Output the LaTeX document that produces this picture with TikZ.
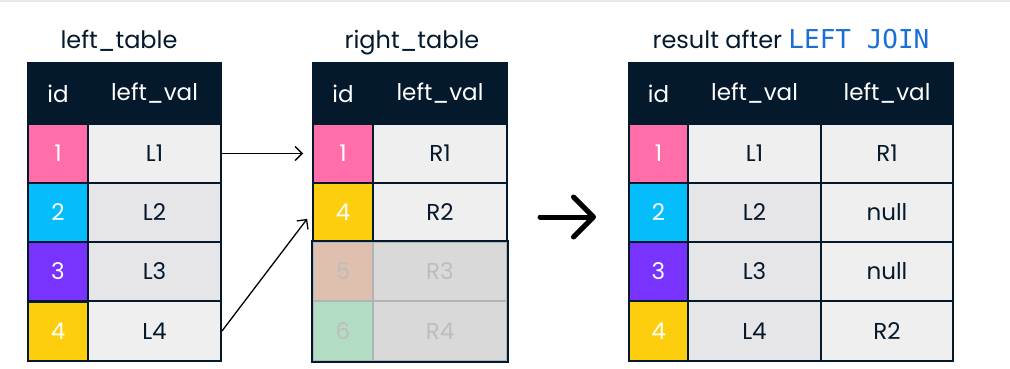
\documentclass[tikz,border=0pt]{standalone}
\usepackage{fontspec}
\setmainfont{Poppins}
\newfontfamily\codefont{DejaVu Sans Mono}
\usetikzlibrary{arrows.meta}
\definecolor{navy}{HTML}{05192D}
\definecolor{pinkc}{HTML}{FF6EA9}
\definecolor{cyanc}{HTML}{06BDFC}
\definecolor{purplec}{HTML}{7933FF}
\definecolor{yellowc}{HTML}{FCCE0D}
\definecolor{cellA}{HTML}{EFEFEF}
\definecolor{cellB}{HTML}{E6E6E9}
\definecolor{fadeA}{HTML}{DFC0AF}
\definecolor{fadeB}{HTML}{B3DDC3}
\definecolor{fadeV}{HTML}{D9D9D9}
\definecolor{fadeT}{HTML}{BDBDBD}
\definecolor{fadeL}{HTML}{B0B3B8}
\definecolor{joinblue}{HTML}{1A6FD6}
\definecolor{topline}{HTML}{E8E8E8}
\begin{document}
\begin{tikzpicture}[x=1pt,y=-1pt,
  cell/.style={draw=navy,line width=2pt,minimum height=59pt,inner sep=0pt,font=\fontsize{23}{23}\selectfont},
  idc/.style={cell,minimum width=60pt,text=white},
  lv/.style={cell,minimum width=133pt,text=navy},
  rs/.style={cell,minimum width=132pt,text=navy},
  hd/.style={cell,fill=navy,text=white,minimum height=61pt},
  faded/.style={draw=fadeL,text=fadeT},
  title/.style={text=navy,font=\fontsize{24}{24}\selectfont,anchor=base},
  link/.style={line width=1.3pt,-{Straight Barb[length=7pt,width=14pt]}},
]
\useasboundingbox (0,0) rectangle (1010,369);
\draw[topline,line width=2pt] (0,1) coordinate (tl) -- (1010,1) coordinate (tr);
% titles
\node[title] (t1) at (119,49) {left\_table};
\node[title] (t2) at (412,49) {right\_table};
\node[title] (t3) at (791,49) {result after {\codefont\fontsize{26}{26}\selectfont\color{joinblue}LEFT JOIN}};
% left table
\node[hd,minimum width=60pt] (lh1) at (58,93.5) {id};
\node[hd,minimum width=133pt] (lh2) at (154.5,93.5) {left\_val};
\node[idc,fill=pinkc] (l1i) at (58,153.5) {1};
\node[lv,fill=cellA] (l1v) at (154.5,153.5) {L1};
\node[idc,fill=cyanc] (l2i) at (58,212.5) {2};
\node[lv,fill=cellB] (l2v) at (154.5,212.5) {L2};
\node[idc,fill=purplec] (l3i) at (58,271.5) {3};
\node[lv,fill=cellB] (l3v) at (154.5,271.5) {L3};
\node[idc,fill=yellowc] (l4i) at (58,331) {4};
\node[lv,fill=cellA,minimum height=60pt] (l4v) at (154.5,331) {L4};
% right table
\node[hd,minimum width=60pt] (rh1) at (343,93.5) {id};
\node[hd,minimum width=134pt] (rh2) at (440,93.5) {left\_val};
\node[idc,fill=pinkc] (r1i) at (343,153.5) {1};
\node[lv,fill=cellA,minimum width=134pt] (r1v) at (440,153.5) {R1};
\node[idc,fill=yellowc] (r2i) at (343,212.5) {4};
\node[lv,fill=cellA,minimum width=134pt] (r2v) at (440,212.5) {R2};
\node[idc,fill=fadeA,faded] (r3i) at (343,271.5) {5};
\node[lv,fill=fadeV,faded,minimum width=134pt] (r3v) at (440,271.5) {R3};
\node[idc,fill=fadeB,faded,minimum height=60pt] (r4i) at (343,331) {6};
\node[lv,fill=fadeV,faded,minimum width=134pt,minimum height=60pt] (r4v) at (440,331) {R4};
\draw[navy,line width=2pt] (r3i.north west) rectangle (r4v.south east);
% result table
\node[hd,minimum width=59pt] (sh1) at (658.5,93.5) {id};
\node[hd,minimum width=133pt] (sh2) at (754.5,93.5) {left\_val};
\node[hd,minimum width=132pt] (sh3) at (887,93.5) {left\_val};
\node[idc,fill=pinkc,minimum width=59pt] (s1i) at (658.5,153.5) {1};
\node[lv,fill=cellA] (s1v) at (754.5,153.5) {L1};
\node[rs,fill=cellA] (s1w) at (887,153.5) {R1};
\node[idc,fill=cyanc,minimum width=59pt] (s2i) at (658.5,212.5) {2};
\node[lv,fill=cellB] (s2v) at (754.5,212.5) {L2};
\node[rs,fill=cellA] (s2w) at (887,212.5) {null};
\node[idc,fill=purplec,minimum width=59pt] (s3i) at (658.5,271.5) {3};
\node[lv,fill=cellB] (s3v) at (754.5,271.5) {L3};
\node[rs,fill=cellA] (s3w) at (887,271.5) {null};
\node[idc,fill=yellowc,minimum width=59pt,minimum height=60pt] (s4i) at (658.5,331) {4};
\node[lv,fill=cellB,minimum height=60pt] (s4v) at (754.5,331) {L4};
\node[rs,fill=cellA,minimum height=60pt] (s4w) at (887,331) {R2};
% connectors
\draw[link,shorten >=9pt] (l1v.east) -- (r1i.west);
\draw[link,shorten >=8pt] (l4v.east) -- (r2i.west);
\coordinate (ba) at (540,217);
\coordinate (bb) at (596,217);
\draw[line width=5pt,line cap=round,-{Straight Barb[length=20pt,width=40pt,line cap=round,round]}] (ba) -- (bb);
\end{tikzpicture}
\end{document}
